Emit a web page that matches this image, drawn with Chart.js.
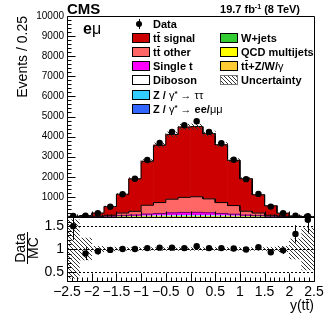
<!DOCTYPE html>
<html><head><meta charset="utf-8">
<script src="https://cdn.jsdelivr.net/npm/chart.js@4.4.0/dist/chart.umd.min.js"></script>
<style>html,body{margin:0;padding:0;background:#fff;}canvas{display:block;}</style>
</head><body>
<canvas id="c" width="332" height="320"></canvas>
<script>
// ---------------- data ----------------
const binEdges = [-2.5,-2.25,-2,-1.75,-1.5,-1.25,-1,-0.75,-0.5,-0.25,0,0.25,0.5,0.75,1,1.25,1.5,1.75,2,2.25,2.5];
const dataEvents = [50,65,185,510,1133,1900,2833,3683,4233,4567,4767,4233,3667,2850,1883,1150,517,183,65,45];
const dataErr    = [12,12,20,25,35,45,55,60,65,68,70,65,60,55,45,35,25,15,12,10];
const ttSignal   = [27,59,153,436,937,1618,2193,2858,3224,3500,3490,3249,2878,2253,1615,910,472,147,36,20];
const ttOther    = [3,6,25,50,130,185,440,540,680,750,775,690,540,430,195,130,50,25,6,3];
const singleTop  = [2,4,10,20,40,60,90,110,130,145,150,135,110,85,55,40,20,10,4,2];
const diboson    = [0.5,1,2,4,6,8,12,15,17,18,18,17,15,12,8,6,4,2,1,0.5];
const zTauTau    = [0.5,1,3,5,10,15,22,28,32,35,35,32,28,22,15,10,5,3,1,0.5];
const zEeMuMu    = [0.3,0.5,1,2,4,6,8,10,12,13,13,12,10,8,6,4,2,1,0.5,0.3];
const wJets      = [0,0,0.2,0.5,1,1,2,2,2,2,2,2,2,2,1,1,0.5,0.2,0,0];
const qcdMulti   = [0,0,0.2,0.5,1,1,2,2,2,2,2,2,2,2,1,1,0.5,0.2,0,0];
const ttV        = [0.2,0.3,1,2,4,6,8,10,11,12,12,11,10,8,6,4,2,1,0.3,0.2];
const ratioVals  = [1.50,0.90,0.95,0.98,1.00,1.00,1.02,1.03,1.03,1.02,1.06,1.02,1.02,1.01,0.99,1.04,0.93,0.97,1.33,1.64];
const ratioErr   = [0.30,0.14,0.07,0.04,0.03,0.025,0.02,0.02,0.02,0.02,0.02,0.02,0.02,0.02,0.025,0.03,0.05,0.08,0.19,0.30];
const mcUncRel   = [0.64,0.24,0.06,0.04,0.03,0.03,0.03,0.03,0.03,0.03,0.03,0.03,0.03,0.03,0.03,0.03,0.04,0.06,0.22,0.46];
const xTickVals  = [-2.5,-2,-1.5,-1,-0.5,0,0.5,1,1.5,2,2.5];
const yTickVals  = [1000,2000,3000,4000,5000,6000,7000,8000,9000,10000];
const rTickVals  = [0.5,1,1.5];

const FONT = "'Liberation Sans', Arial, Helvetica, sans-serif";
const canvas = document.getElementById('c');
const ctx0 = canvas.getContext('2d');
function hatch(color){
  const c=document.createElement('canvas'); c.width=4; c.height=4;
  const g=c.getContext('2d'); g.strokeStyle=color; g.lineWidth=1;
  g.beginPath(); for(let k=-4;k<=4;k+=4){ g.moveTo(k,0); g.lineTo(k+4,4); } g.stroke();
  return ctx0.createPattern(c,'repeat');
}
const hatchPat = hatch('#333');

const binCenters = binEdges.slice(0,-1).map((e,i)=>(e+binEdges[i+1])/2);
const comps = [
  {label:'ttV', vals:ttV, color:'#ffcc33'},
  {label:'QCD', vals:qcdMulti, color:'#ffff00'},
  {label:'W+jets', vals:wJets, color:'#33cc33'},
  {label:'Zll', vals:zEeMuMu, color:'#3366ff'},
  {label:'Ztt', vals:zTauTau, color:'#33ccff'},
  {label:'Diboson', vals:diboson, color:'#ffffff'},
  {label:'Single t', vals:singleTop, color:'#ff00ff'},
  {label:'tt other', vals:ttOther, color:'#ff6666'},
  {label:'tt signal', vals:ttSignal, color:'#cc0000'}
];
const cum = []; let run = binCenters.map(()=>0);
comps.forEach(c=>{ run = run.map((v,i)=>v+c.vals[i]); cum.push(run.slice()); });
const mcTotal = cum[cum.length-1];

function stepPts(vals){ const p=[]; vals.forEach((v,i)=>{ p.push({x:binEdges[i],y:v}); p.push({x:binEdges[i+1],y:v}); }); return p; }
const pts = vals => binCenters.map((x,i)=>({x, y:vals[i]}));

const datasets = [
  {type:'line', label:'Data', data:pts(dataEvents), yAxisID:'y', stack:'s_data', showLine:false, pointRadius:3.2, pointBackgroundColor:'#000', pointBorderWidth:0, order:0},
  {type:'line', label:'Ratio', data:pts(ratioVals), yAxisID:'yr', showLine:false, pointRadius:3.2, pointBackgroundColor:'#000', pointBorderWidth:0, order:0},
  {type:'bar', label:'Unc', data:binCenters.map((x,i)=>({x, y:[mcTotal[i]*(1-mcUncRel[i]), mcTotal[i]*(1+mcUncRel[i])]})), yAxisID:'y', stack:'s_unc', grouped:false, backgroundColor:hatchPat, borderWidth:0, barPercentage:1, categoryPercentage:1, order:1},
  {type:'bar', label:'UncR', data:binCenters.map((x,i)=>({x, y:[1-mcUncRel[i], 1+mcUncRel[i]]})), yAxisID:'yr', grouped:false, backgroundColor:hatchPat, borderWidth:0, barPercentage:1, categoryPercentage:1, order:1},
  {type:'line', label:'o1', data:stepPts(cum[8]), yAxisID:'y', stack:'s_o1', borderColor:'#000', borderWidth:1, pointRadius:0, fill:false, order:2},
  {type:'line', label:'o2', data:stepPts(cum[7]), yAxisID:'y', stack:'s_o2', borderColor:'#000', borderWidth:1, pointRadius:0, fill:false, order:2},
  {type:'line', label:'o3', data:stepPts(cum[6]), yAxisID:'y', stack:'s_o3', borderColor:'#660066', borderWidth:1, pointRadius:0, fill:false, order:2}
];
comps.forEach(c=>datasets.push({type:'bar', label:c.label, data:pts(c.vals), yAxisID:'y', stack:'mc', backgroundColor:c.color, borderWidth:0, barPercentage:1, categoryPercentage:1, order:3}));

// ---------------- helpers ----------------
function rich(ctx, x, y, segs, align){
  let w=0; segs.forEach(s=>{ ctx.font=s.f; s.w=ctx.measureText(s.t).width; w+=s.w; });
  let cx = align==='right' ? x-w : (align==='center' ? x-w/2 : x);
  segs.forEach(s=>{ ctx.font=s.f; ctx.fillText(s.t, cx, y+(s.dy||0));
    if(s.over){ ctx.beginPath(); ctx.lineWidth=1; ctx.strokeStyle='#000'; ctx.moveTo(cx+0.5, Math.round(y-s.over)+0.5); ctx.lineTo(cx+s.w-0.5, Math.round(y-s.over)+0.5); ctx.stroke(); }
    cx+=s.w; });
}
const B = s=>'bold '+s+'px '+FONT, N = s=>s+'px '+FONT;

const framePlugin = {
  id:'frame',
  beforeDatasetsDraw(chart){
    const ctx=chart.ctx, xs=chart.scales.x, yr=chart.scales.yr;
    ctx.save(); ctx.strokeStyle='#000'; ctx.lineWidth=1; ctx.setLineDash([2,2]);
    rTickVals.forEach(v=>{ const py=Math.round(yr.getPixelForValue(v))+0.5; ctx.beginPath(); ctx.moveTo(xs.left,py); ctx.lineTo(xs.right,py); ctx.stroke(); });
    ctx.restore();
  },
  afterDatasetsDraw(chart){
    const ctx=chart.ctx, xs=chart.scales.x, ys=chart.scales.y, yr=chart.scales.yr;
    ctx.save();
    ctx.strokeStyle='#000'; ctx.lineWidth=1;
    binCenters.forEach((x,i)=>{
      const px=Math.round(xs.getPixelForValue(x))+0.5;
      ctx.beginPath(); ctx.moveTo(px, ys.getPixelForValue(dataEvents[i]-dataErr[i])); ctx.lineTo(px, ys.getPixelForValue(dataEvents[i]+dataErr[i])); ctx.stroke();
      const lo=Math.max(0.3, ratioVals[i]-ratioErr[i]), hi=Math.min(1.7, ratioVals[i]+ratioErr[i]);
      ctx.beginPath(); ctx.moveTo(px, yr.getPixelForValue(lo)); ctx.lineTo(px, yr.getPixelForValue(hi)); ctx.stroke();
    });
    const L=Math.round(xs.left)+0.5, R=Math.round(xs.right)+0.5;
    const T1=Math.round(ys.top)+0.5, B1=Math.round(ys.bottom)+0.5, T2=Math.round(yr.top)+0.5, B2=Math.round(yr.bottom)+0.5;
    ctx.beginPath();
    ctx.rect(L,T1,R-L,B1-T1); ctx.rect(L,T2,R-L,B2-T2);
    for(let v=0; v<=10000; v+=200){ const py=Math.round(ys.getPixelForValue(v))+0.5; const len=(v%1000===0)?8:4; ctx.moveTo(L,py); ctx.lineTo(L+len,py); }
    for(let k=3; k<=17; k++){ const v=k/10; const py=Math.round(yr.getPixelForValue(v))+0.5; const len=(k%5===0)?8:4; ctx.moveTo(L,py); ctx.lineTo(L+len,py); }
    for(let k=-25; k<=25; k++){ const px=Math.round(xs.getPixelForValue(k/10))+0.5; const maj=(k%5===0);
      ctx.moveTo(px,B1); ctx.lineTo(px,B1-(maj?6:3)); ctx.moveTo(px,B2); ctx.lineTo(px,B2-(maj?8:4)); }
    ctx.stroke();
    // main y-axis tick labels, placed through the y scale
    ctx.fillStyle='#000'; ctx.font=N(10); ctx.textAlign='right'; ctx.textBaseline='middle';
    yTickVals.forEach(v=>ctx.fillText(String(v), 64, ys.getPixelForValue(v)));
    ctx.restore();
  },
  afterDraw(chart){
    const ctx=chart.ctx;
    ctx.save(); ctx.fillStyle='#000'; ctx.textBaseline='alphabetic'; ctx.textAlign='left';
    rich(ctx, 67, 14, [{t:'CMS', f:B(15)}], 'left');
    rich(ctx, 300, 13, [{t:'19.7 fb', f:B(11)},{t:'-1', f:B(7), dy:-4},{t:' (8 TeV)', f:B(11)}], 'right');
    rich(ctx, 83, 34, [{t:'e', f:B(16)},{t:'\u03bc', f:N(16)}], 'left');
    const rowY = i => 24 + 14.1*i;
    const col1Box=132, col2Box=220, bw=18, bh=10;
    const entries = [
      {c:1,r:0,kind:'data', segs:[{t:'Data', f:B(11)}]},
      {c:1,r:1,color:'#cc0000', segs:[{t:'t', f:B(11)},{t:'t', f:B(11), over:10},{t:' signal', f:B(11)}]},
      {c:1,r:2,color:'#ff6666', segs:[{t:'t', f:B(11)},{t:'t', f:B(11), over:10},{t:' other', f:B(11)}]},
      {c:1,r:3,color:'#ff00ff', segs:[{t:'Single t', f:B(11)}]},
      {c:1,r:4,color:'#ffffff', segs:[{t:'Diboson', f:B(11)}]},
      {c:1,r:5,color:'#33ccff', segs:[{t:'Z / ', f:B(11)},{t:'\u03b3', f:N(11)},{t:'*', f:B(8), dy:-3},{t:' \u2192 ', f:N(11)},{t:'\u03c4\u03c4', f:N(11)}]},
      {c:1,r:6,color:'#3366ff', segs:[{t:'Z / ', f:B(11)},{t:'\u03b3', f:N(11)},{t:'*', f:B(8), dy:-3},{t:' \u2192 ', f:N(11)},{t:'ee/', f:B(11)},{t:'\u03bc\u03bc', f:N(11)}]},
      {c:2,r:1,color:'#33cc33', segs:[{t:'W+jets', f:B(11)}]},
      {c:2,r:2,color:'#ffff00', segs:[{t:'QCD multijets', f:B(11)}]},
      {c:2,r:3,color:'#ffcc33', segs:[{t:'t', f:B(11)},{t:'t', f:B(11), over:10},{t:'+Z/W/', f:B(11)},{t:'\u03b3', f:N(11)}]},
      {c:2,r:4,kind:'unc', segs:[{t:'Uncertainty', f:B(11)}]}
    ];
    entries.forEach(e=>{
      const bx = e.c===1?col1Box:col2Box, cy=rowY(e.r);
      if(e.kind==='data'){
        ctx.beginPath(); ctx.arc(bx+7, cy, 3, 0, Math.PI*2); ctx.fill();
        ctx.beginPath(); ctx.lineWidth=1; ctx.strokeStyle='#000'; ctx.moveTo(bx+7.5, cy-5); ctx.lineTo(bx+7.5, cy+5); ctx.stroke();
      } else {
        ctx.fillStyle = e.kind==='unc' ? '#fff' : e.color;
        ctx.fillRect(bx, Math.round(cy-bh/2), bw, bh);
        if(e.kind==='unc'){ ctx.fillStyle=hatchPat; ctx.fillRect(bx, Math.round(cy-bh/2), bw, bh); }
        ctx.strokeStyle = e.kind==='unc' ? '#777' : '#000'; ctx.lineWidth=1;
        ctx.strokeRect(bx+0.5, Math.round(cy-bh/2)+0.5, bw-1, bh-1);
      }
      ctx.fillStyle='#000';
      rich(ctx, bx+21, cy+4, e.segs, 'left');
    });
    ctx.save(); ctx.translate(27, 16); ctx.rotate(-Math.PI/2); ctx.textAlign='right'; ctx.font=N(14); ctx.fillText('Events / 0.25', 0, 0); ctx.restore();
    ctx.save(); ctx.translate(25, 248); ctx.rotate(-Math.PI/2); ctx.textAlign='center'; ctx.font=N(14);
    ctx.fillText('Data', 0, 0); ctx.fillText('MC', 0, 13);
    ctx.beginPath(); ctx.lineWidth=1; ctx.strokeStyle='#000'; ctx.moveTo(-16, 2.5); ctx.lineTo(16, 2.5); ctx.stroke(); ctx.restore();
    rich(ctx, 314, 310, [{t:'y(t', f:N(14)},{t:'t', f:N(14), over:11},{t:')', f:N(14)}], 'right');
    ctx.restore();
  }
};

new Chart(canvas, {
  type:'bar',
  data:{datasets},
  options:{
    responsive:false, animation:false, devicePixelRatio:1,
    layout:{padding:{top:16, right:18, left:0, bottom:0}},
    plugins:{legend:{display:false}, tooltip:{enabled:false}},
    scales:{
      x:{type:'linear', min:-2.5, max:2.5, offset:false, position:'bottom',
         grid:{display:false, drawTicks:false}, border:{display:false},
         afterBuildTicks(s){ s.ticks = xTickVals.map(v=>({value:v})); },
         ticks:{autoSkip:false, maxRotation:0, color:'#000', font:{family:FONT, size:14}, padding:3,
                callback:v=> v<0 ? '\u2212'+Math.abs(v) : String(v)},
         afterFit(s){ s.height=39; }},
      yr:{type:'linear', stack:'v', stackWeight:64, weight:0, min:0.3, max:1.7, position:'left',
         grid:{display:false, drawTicks:false}, border:{display:false},
         afterBuildTicks(s){ s.ticks = rTickVals.map(v=>({value:v})); },
         ticks:{autoSkip:false, color:'#000', font:{family:FONT, size:14}, padding:3, callback:v=>String(v)},
         afterFit(s){ s.width=67; }},
      y:{type:'linear', stack:'v', stackWeight:201, weight:1, min:0, max:10000, stacked:true, position:'left',
         grid:{display:false, drawTicks:false}, border:{display:false},
         afterBuildTicks(s){ s.ticks = yTickVals.map(v=>({value:v})); },
         ticks:{display:false},
         afterFit(s){ s.width=67; }}
    }
  },
  plugins:[framePlugin]
});
</script>
</body></html>
